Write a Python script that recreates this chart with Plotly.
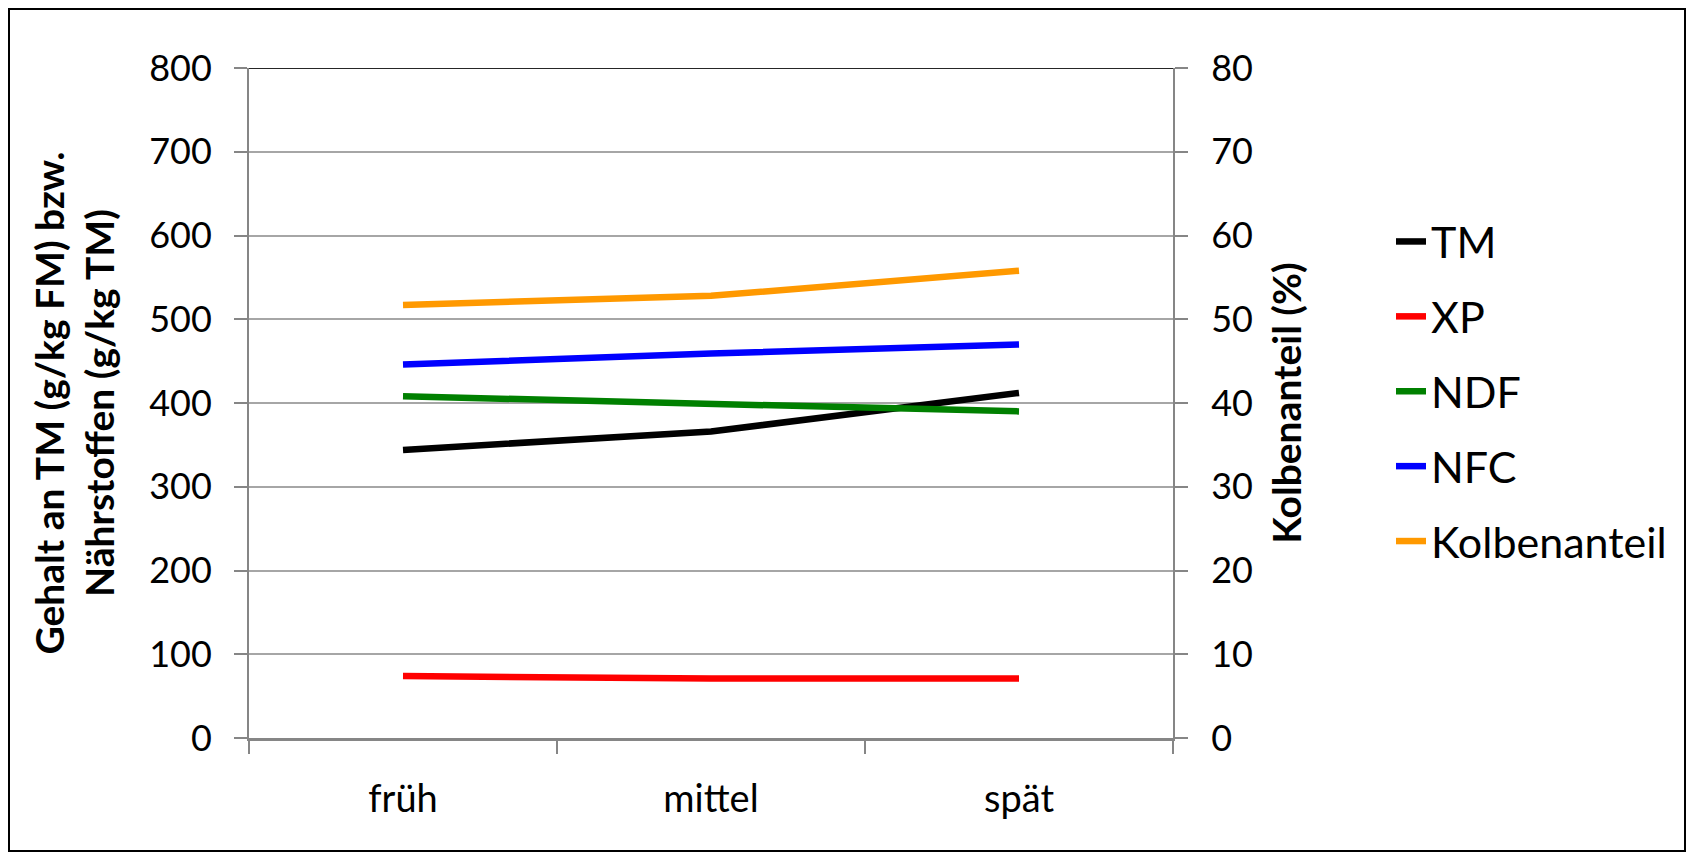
import plotly.graph_objects as go

# Reifestadien (Erntezeitpunkt)
stages = ["früh", "mittel", "spät"]

# Gehalt an TM (g/kg FM) bzw. Nährstoffe (g/kg TM)
tm = [344, 366, 412]
xp = [74, 71, 71]
ndf = [408, 399, 390]
nfc = [446, 459, 470]

# Kolbenanteil (%) auf der rechten Achse
kolben = [51.7, 52.8, 55.8]

left_ticks = [0, 100, 200, 300, 400, 500, 600, 700, 800]
right_ticks = [0, 10, 20, 30, 40, 50, 60, 70, 80]

W, H = 1692, 853
L, R, T, B = 249, 1173, 68, 738  # plot area in pixels
FONT = "Lato, 'Open Sans', sans-serif"
AXIS_GREY = "#868686"
GRID_GREY = "#a6a6a6"

fig = go.Figure()

series = [
    ("TM", tm, "#000000", "y"),
    ("XP", xp, "#ff0000", "y"),
    ("NDF", ndf, "#008000", "y"),
    ("NFC", nfc, "#0000ff", "y"),
    ("Kolbenanteil", kolben, "#ff9900", "y2"),
]
for name, vals, color, axis in series:
    fig.add_trace(go.Scatter(
        x=stages, y=vals, name=name, mode="lines", yaxis=axis,
        legendgroup=name,
        line=dict(color=color, width=6.5, shape="linear"),
    ))

fig.update_layout(
    width=W, height=H,
    margin=dict(l=L, r=W - R, t=T, b=H - B, autoexpand=False),
    paper_bgcolor="white", plot_bgcolor="white",
    font=dict(family=FONT, color="#000000"),
    showlegend=True,
    legend=dict(
        x=(1391 - L) / (R - L), xanchor="left",
        y=(B - 207) / (B - T), yanchor="top",
        font=dict(size=43, family=FONT),
        tracegroupgap=16, bgcolor="rgba(0,0,0,0)", borderwidth=0,
    ),
    xaxis=dict(
        type="category", range=[-0.5, 2.5],
        tickson="boundaries", ticks="outside", ticklen=13, tickwidth=2,
        tickcolor=AXIS_GREY, showline=True, linecolor=AXIS_GREY, linewidth=3,
        showgrid=False, tickfont=dict(size=38, family=FONT),
        ticklabelstandoff=25,
    ),
    yaxis=dict(
        range=[0, 800], tickvals=left_ticks,
        ticks="outside", ticklen=13, tickwidth=2, tickcolor=AXIS_GREY,
        showline=True, linecolor=AXIS_GREY, linewidth=2,
        showgrid=True, gridcolor=GRID_GREY, gridwidth=2, zeroline=False,
        tickfont=dict(size=36, family=FONT), ticklabelstandoff=15,
        title=dict(
            text="Gehalt an TM (g/kg FM) bzw.<br>Nährstoffen (g/kg TM)",
            font=dict(size=39, family=FONT, weight="bold"),
            standoff=22,
        ),
    ),
    yaxis2=dict(
        range=[0, 80], tickvals=right_ticks, overlaying="y", side="right",
        ticks="outside", ticklen=13, tickwidth=2, tickcolor=AXIS_GREY,
        showline=True, linecolor=AXIS_GREY, linewidth=2,
        showgrid=False, zeroline=False,
        tickfont=dict(size=36, family=FONT), ticklabelstandoff=16,
        title=dict(
            text="Kolbenanteil (%)",
            font=dict(size=39, family=FONT, weight="bold"),
            standoff=22,
        ),
    ),
)

# dark upper edge of the plot area
fig.add_shape(type="line", xref="paper", yref="y", x0=0, x1=1, y0=800, y1=800,
              line=dict(color="#262626", width=2), layer="above")

# outer chart frame
def px_x(p):
    return (p - L) / (R - L)

def px_y(p):
    return (B - p) / (B - T)

fig.add_shape(type="rect", xref="paper", yref="paper",
              x0=px_x(9), x1=px_x(1685), y0=px_y(9), y1=px_y(851),
              line=dict(color="#000000", width=2), fillcolor="rgba(0,0,0,0)",
              layer="below")

fig.write_html("out.html")
